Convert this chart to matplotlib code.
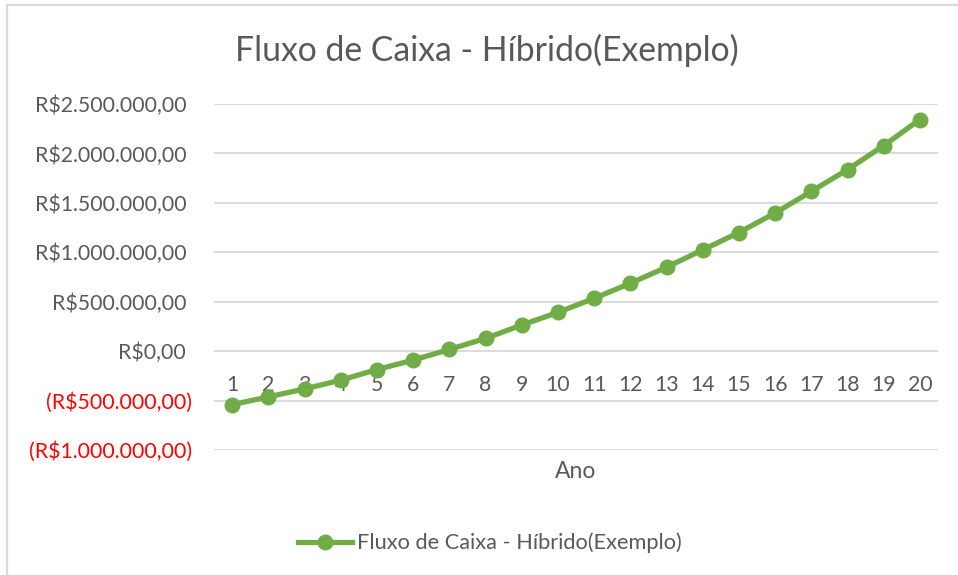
import matplotlib
matplotlib.use("Agg")
import matplotlib.pyplot as plt
from matplotlib.lines import Line2D

plt.rcParams['font.family'] = ['Lato', 'DejaVu Sans']

# data
anos = list(range(1, 21))
fluxo = [-541000, -463000, -382000, -294000, -186000, -91000, 17000, 129000,
         264000, 392000, 534000, 686000, 849000, 1024000, 1200000, 1397000,
         1616000, 1836000, 2079000, 2343000]
y_ticks = [-1000000, -500000, 0, 500000, 1000000, 1500000, 2000000, 2500000]
titulo = "Fluxo de Caixa - Híbrido(Exemplo)"
serie = "Fluxo de Caixa - Híbrido(Exemplo)"

GREEN = '#70AD47'
GRAY = '#595959'
GRID = '#D9D9D9'

W, H = 958, 575


def brl(v):
    s = f"{abs(v):,.2f}".replace(',', 'X').replace('.', ',').replace('X', '.')
    return f"(R${s})" if v < 0 else f"R${s}"


fig = plt.figure(figsize=(W / 100, H / 100), dpi=100)
ax = fig.add_axes([214 / W, 1 - 450 / H, (938 - 214) / W, (450 - 104) / H])

ax.plot(anos, fluxo, color=GREEN, lw=3.8, marker='o', ms=10.5, zorder=3)

ax.set_xlim(0.5, 20.5)
ax.set_ylim(-1000000, 2500000)
ax.set_yticks(y_ticks)
ax.set_yticklabels([brl(v) for v in y_ticks])
ax.tick_params(axis='y', length=0, pad=20, labelsize=15.3)
for lab, v in zip(ax.get_yticklabels(), y_ticks):
    if v < 0:
        # excel lets the closing parenthesis hang past the number column
        lab.set_color('#FF0000')
        lab.set_x(lab.get_position()[0] + 6 / 724)
    else:
        lab.set_color(GRAY)

ax.grid(axis='y', color=GRID, lw=1.3)
ax.set_axisbelow(True)
for sp in ax.spines.values():
    sp.set_visible(False)

# category labels sit just under the zero line
ax.set_xticks(anos)
ax.spines['bottom'].set_position(('data', 0))
ax.tick_params(axis='x', length=0, pad=17, labelsize=15.3, labelcolor=GRAY)

fig.text(576 / W, 1 - 472 / H, "Ano", ha='center', va='center',
         fontsize=16.5, color=GRAY)
fig.text(487 / W, 1 - 50 / H, titulo, ha='center', va='center',
         fontsize=24.3, color=GRAY)

handle = Line2D([], [], color=GREEN, lw=3.8, marker='o', ms=10.5)
fig.legend([handle], [serie], loc='center left', bbox_to_anchor=(298 / W, 1 - 543 / H),
           frameon=False, fontsize=15.7, labelcolor=GRAY, handlelength=2.48,
           handletextpad=0.23, borderpad=0, borderaxespad=0)

# chart border (top and left visible in the reference crop)
fig.add_artist(Line2D([7 / W, 1], [1 - 5 / H, 1 - 5 / H], color=GRID, lw=1.6,
                      transform=fig.transFigure))
fig.add_artist(Line2D([7 / W, 7 / W], [0, 1 - 5 / H], color=GRID, lw=1.6,
                      transform=fig.transFigure))

fig.savefig('out.png', dpi=100, facecolor='white')
